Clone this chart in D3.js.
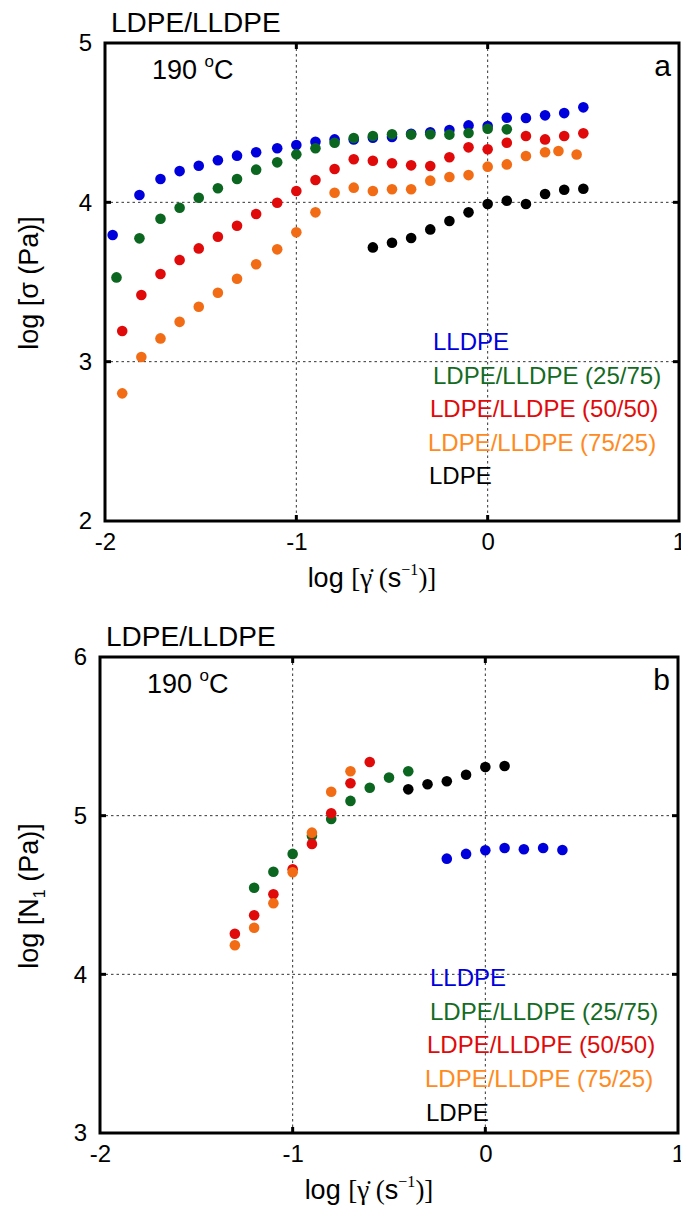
<!DOCTYPE html>
<html><head><meta charset="utf-8">
<script src="https://cdn.jsdelivr.net/npm/d3@7"></script>
<style>body{margin:0;background:#fff}svg{display:block}</style>
</head><body>
<svg id="c" width="681" height="1213"></svg>
<script>
// ---------- DATA ----------
const seriesNames = ["LLDPE", "LDPE/LLDPE (25/75)", "LDPE/LLDPE (50/50)", "LDPE/LLDPE (75/25)", "LDPE"];
const xTicks = [-2, -1, 0, 1];
const yTicksA = [2, 3, 4, 5];
const yTicksB = [3, 4, 5, 6];

// Panel a: log shear rate vs log shear stress
const aRate_LLDPE = [-1.96,-1.82,-1.71,-1.61,-1.51,-1.41,-1.31,-1.21,-1.10,-1.0,-0.9,-0.8,-0.7,-0.6,-0.5,-0.4,-0.3,-0.2,-0.1,0,0.1,0.2,0.3,0.4,0.5];
const aStress_LLDPE = [3.795,4.046,4.146,4.196,4.23,4.264,4.293,4.314,4.339,4.36,4.38,4.395,4.395,4.405,4.41,4.43,4.44,4.454,4.483,4.479,4.531,4.529,4.546,4.56,4.596];
const aRate_2575 = [-1.94,-1.82,-1.71,-1.61,-1.51,-1.41,-1.31,-1.21,-1.10,-1.0,-0.9,-0.8,-0.7,-0.6,-0.5,-0.4,-0.3,-0.2,-0.1,0,0.1];
const aStress_2575 = [3.529,3.774,3.897,3.966,4.029,4.088,4.146,4.205,4.251,4.301,4.339,4.374,4.404,4.416,4.427,4.425,4.427,4.425,4.435,4.462,4.458];
const aRate_5050 = [-1.91,-1.81,-1.71,-1.61,-1.51,-1.41,-1.31,-1.21,-1.10,-1.0,-0.9,-0.8,-0.7,-0.6,-0.5,-0.4,-0.3,-0.2,-0.1,0,0.1,0.2,0.3,0.4,0.5];
const aStress_5050 = [3.192,3.418,3.55,3.638,3.711,3.784,3.853,3.927,3.997,4.071,4.14,4.209,4.27,4.261,4.245,4.232,4.228,4.283,4.345,4.333,4.374,4.416,4.395,4.416,4.433];
const aRate_7525 = [-1.91,-1.81,-1.71,-1.61,-1.51,-1.41,-1.31,-1.21,-1.10,-1.0,-0.9,-0.8,-0.7,-0.6,-0.5,-0.4,-0.3,-0.2,-0.1,0,0.1,0.2,0.3,0.37,0.465];
const aStress_7525 = [2.801,3.029,3.146,3.25,3.345,3.433,3.52,3.611,3.705,3.812,3.937,4.06,4.092,4.071,4.082,4.082,4.136,4.159,4.171,4.224,4.238,4.291,4.314,4.322,4.30];
const aRate_LDPE = [-0.6,-0.5,-0.4,-0.3,-0.2,-0.1,0,0.1,0.2,0.3,0.4,0.5];
const aStress_LDPE = [3.717,3.746,3.776,3.83,3.883,3.937,3.99,4.01,3.99,4.052,4.079,4.085];

// Panel b: log shear rate vs log N1
const bRate_LLDPE = [-0.2,-0.1,0,0.1,0.2,0.3,0.4];
const bN1_LLDPE = [4.729,4.759,4.782,4.796,4.788,4.796,4.784];
const bRate_2575 = [-1.2,-1.1,-1.0,-0.9,-0.8,-0.7,-0.6,-0.5,-0.4];
const bN1_2575 = [4.546,4.647,4.759,4.874,4.979,5.093,5.176,5.24,5.28];
const bRate_5050 = [-1.3,-1.2,-1.1,-1.0,-0.9,-0.8,-0.7,-0.6];
const bN1_5050 = [4.256,4.372,4.505,4.662,4.822,5.015,5.204,5.338];
const bRate_7525 = [-1.3,-1.2,-1.1,-1.0,-0.9,-0.8,-0.7];
const bN1_7525 = [4.183,4.294,4.448,4.643,4.893,5.151,5.28];
const bRate_LDPE = [-0.4,-0.3,-0.2,-0.1,0,0.1];
const bN1_LDPE = [5.166,5.198,5.217,5.258,5.307,5.313];

// ---------- STYLE ----------
const dotColors = ["#0000dc", "#0b6620", "#e00a0a", "#f26c16", "#000000"];
const textColors = ["#0000dc", "#146b24", "#e00a0a", "#ff8a1e", "#000000"];
const SANS = "'Liberation Sans', Arial, Helvetica, sans-serif";
const SERIF = "'Liberation Serif', 'Times New Roman', serif";

const svg = d3.select("#c");

function panel(cfg) {
  const x = d3.scaleLinear().domain([-2, 1]).range([cfg.left, cfg.right]);
  const y = d3.scaleLinear().domain(cfg.yDomain).range([cfg.bottom, cfg.top]);
  const g = svg.append("g");

  // grid (dotted) at interior ticks
  const gx = xTicks.filter(d => d > -2 && d < 1);
  const gy = cfg.yTicks.filter(d => d > cfg.yDomain[0] && d < cfg.yDomain[1]);
  g.selectAll(".gx").data(gx).enter().append("line")
    .attr("x1", d => x(d)).attr("x2", d => x(d))
    .attr("y1", cfg.top).attr("y2", cfg.bottom)
    .attr("stroke", "#333").attr("stroke-width", 1).attr("stroke-dasharray", "2.5,3");
  g.selectAll(".gy").data(gy).enter().append("line")
    .attr("x1", cfg.left).attr("x2", cfg.right)
    .attr("y1", d => y(d)).attr("y2", d => y(d))
    .attr("stroke", "#333").attr("stroke-width", 1).attr("stroke-dasharray", "2.5,3");

  // axes (labels via d3 axes)
  const ax = g.append("g").attr("transform", `translate(0,${cfg.bottom})`)
    .call(d3.axisBottom(x).tickValues(xTicks).tickFormat(d => String(d)).tickSize(0).tickPadding(12));
  ax.select(".domain").remove();
  ax.selectAll("text").attr("font-family", SANS).attr("font-size", 24).attr("fill", "#000");
  const ay = g.append("g").attr("transform", `translate(${cfg.left},0)`)
    .call(d3.axisLeft(y).tickValues(cfg.yTicks).tickFormat(d => String(d)).tickSize(0).tickPadding(13));
  ay.select(".domain").remove();
  ay.selectAll("text").attr("font-family", SANS).attr("font-size", 24).attr("fill", "#000");

  // inward tick marks
  const tl = 6;
  gx.forEach(d => {
    g.append("line").attr("x1", x(d)).attr("x2", x(d)).attr("y1", cfg.bottom).attr("y2", cfg.bottom - tl).attr("stroke", "#000").attr("stroke-width", 3);
    g.append("line").attr("x1", x(d)).attr("x2", x(d)).attr("y1", cfg.top).attr("y2", cfg.top + tl).attr("stroke", "#000").attr("stroke-width", 3);
  });
  gy.forEach(d => {
    g.append("line").attr("x1", cfg.left).attr("x2", cfg.left + tl).attr("y1", y(d)).attr("y2", y(d)).attr("stroke", "#000").attr("stroke-width", 3);
    g.append("line").attr("x1", cfg.right).attr("x2", cfg.right - tl).attr("y1", y(d)).attr("y2", y(d)).attr("stroke", "#000").attr("stroke-width", 3);
  });

  // points
  cfg.series.forEach((s, i) => {
    g.selectAll(null).data(s.xs.map((v, k) => [v, s.ys[k]])).enter().append("circle")
      .attr("cx", d => x(d[0])).attr("cy", d => y(d[1])).attr("r", 5.3)
      .attr("fill", dotColors[i]);
  });

  // frame
  g.append("rect").attr("x", cfg.left).attr("y", cfg.top)
    .attr("width", cfg.right - cfg.left).attr("height", cfg.bottom - cfg.top)
    .attr("fill", "none").attr("stroke", "#000").attr("stroke-width", 3);

  // title
  g.append("text").attr("x", cfg.left + 6).attr("y", cfg.top - 11)
    .attr("font-family", SANS).attr("font-size", 28).text("LDPE/LLDPE");
  // temperature
  const t = g.append("text").attr("x", cfg.left + 47).attr("y", cfg.top + 36)
    .attr("font-family", SANS).attr("font-size", 27);
  t.append("tspan").text("190 ");
  t.append("tspan").attr("font-size", 17).attr("dy", -12).text("o");
  t.append("tspan").attr("dy", 12).text("C");
  // panel letter
  g.append("text").attr("x", cfg.right - 8).attr("y", cfg.top + 33).attr("text-anchor", "end")
    .attr("font-family", SANS).attr("font-size", 30).text(cfg.letter);

  // legend
  seriesNames.forEach((n, i) => {
    g.append("text").attr("x", cfg.legX + (cfg.legDx[i] || 0)).attr("y", cfg.legY + i * cfg.legStep)
      .attr("font-family", SANS).attr("font-size", 24).attr("fill", textColors[i]).text(n);
  });

  // x title
  const xt = g.append("text").attr("x", (cfg.left + cfg.right) / 2 - 20).attr("y", cfg.bottom + 66)
    .attr("text-anchor", "middle").attr("font-size", 27);
  xt.append("tspan").attr("font-family", SANS).text("log ");
  xt.append("tspan").attr("font-family", SERIF).text("[\u03B3\u0307 (");
  xt.append("tspan").attr("font-family", SANS).text("s");
  xt.append("tspan").attr("font-family", SERIF).attr("font-size", 16).attr("dy", -12).text("\u22121");
  xt.append("tspan").attr("font-family", SERIF).attr("dy", 12).text(")]");

  // y title
  const yc = (cfg.top + cfg.bottom) / 2;
  const yt = g.append("text").attr("transform", `translate(38,${yc + cfg.yTitleDy}) rotate(-90)`)
    .attr("text-anchor", "middle").attr("font-family", SANS).attr("font-size", 27);
  cfg.yTitle(yt);
}

panel({
  left: 105, right: 679, top: 43, bottom: 521, yDomain: [2, 5], yTicks: yTicksA, letter: "a",
  legX: 431, legDx: [2, 2, -1, -3, -2], legY: 350, legStep: 33.5, yTitleDy: 1,
  series: [
    {xs: aRate_LLDPE, ys: aStress_LLDPE},
    {xs: aRate_2575, ys: aStress_2575},
    {xs: aRate_5050, ys: aStress_5050},
    {xs: aRate_7525, ys: aStress_7525},
    {xs: aRate_LDPE, ys: aStress_LDPE}
  ],
  yTitle: t => t.text("log [\u03C3 (Pa)]")
});

panel({
  left: 100, right: 678, top: 657, bottom: 1133, yDomain: [3, 6], yTicks: yTicksB, letter: "b",
  legX: 428, legDx: [2, 2, -1, -3, -2], legY: 986, legStep: 33.7, yTitleDy: 1,
  series: [
    {xs: bRate_LLDPE, ys: bN1_LLDPE},
    {xs: bRate_2575, ys: bN1_2575},
    {xs: bRate_5050, ys: bN1_5050},
    {xs: bRate_7525, ys: bN1_7525},
    {xs: bRate_LDPE, ys: bN1_LDPE}
  ],
  yTitle: t => {
    t.append("tspan").text("log [N");
    t.append("tspan").attr("font-size", 16).attr("dy", 7).text("1");
    t.append("tspan").attr("dy", -7).text(" (Pa)]");
  }
});
</script>
</body></html>
